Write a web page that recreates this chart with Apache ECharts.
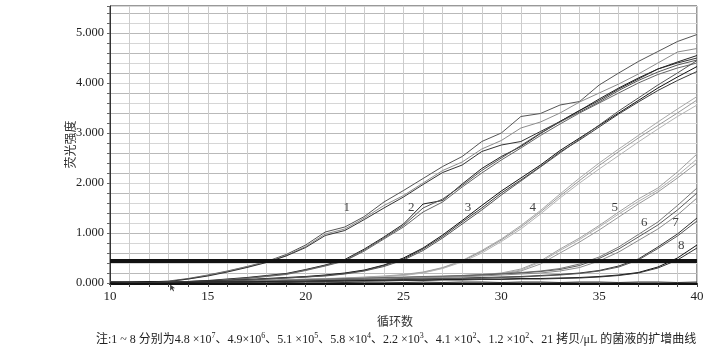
<!DOCTYPE html>
<html>
<head>
<meta charset="utf-8">
<script src="https://cdn.jsdelivr.net/npm/echarts@6/dist/echarts.min.js"></script>
<style>
html,body{margin:0;padding:0;background:#fff;}
#chart{width:715px;height:352px;}
</style>
</head>
<body>
<div id="chart"></div>
<script>
const cycles = [10,11,12,13,14,15,16,17,18,19,20,21,22,23,24,25,26,27,28,29,30,31,32,33,34,35,36,37,38,39,40];

const g1a = [0.03,0.02,0.02,0.04,0.09,0.16,0.24,0.33,0.43,0.57,0.76,1.02,1.12,1.33,1.62,1.85,2.09,2.33,2.53,2.83,3.00,3.33,3.39,3.56,3.63,3.96,4.20,4.43,4.63,4.83,4.97];
const g1b = [0.02,0.03,0.01,0.03,0.08,0.15,0.23,0.32,0.42,0.55,0.73,0.98,1.08,1.30,1.55,1.75,2.00,2.25,2.42,2.68,2.85,3.10,3.22,3.40,3.62,3.80,3.98,4.18,4.40,4.62,4.69];
const g1c = [0.01,0.02,0.02,0.03,0.08,0.14,0.22,0.31,0.41,0.54,0.71,0.95,1.05,1.27,1.50,1.72,1.97,2.21,2.36,2.63,2.76,2.83,3.03,3.23,3.45,3.65,3.88,4.08,4.28,4.40,4.50];

const g2a = [0.01,0.01,0.02,0.02,0.03,0.05,0.08,0.11,0.15,0.19,0.27,0.36,0.47,0.68,0.92,1.18,1.58,1.65,1.98,2.29,2.53,2.73,2.99,3.23,3.45,3.68,3.90,4.10,4.28,4.42,4.55];
const g2b = [0.02,0.01,0.01,0.02,0.03,0.04,0.07,0.10,0.14,0.18,0.26,0.35,0.45,0.66,0.90,1.15,1.50,1.68,1.95,2.25,2.50,2.75,3.00,3.22,3.42,3.62,3.85,4.05,4.22,4.36,4.46];
const g2c = [0.01,0.02,0.01,0.01,0.02,0.04,0.06,0.09,0.13,0.17,0.25,0.34,0.44,0.64,0.88,1.12,1.42,1.62,1.92,2.20,2.46,2.70,2.95,3.18,3.40,3.60,3.80,4.00,4.17,4.30,4.40];

const g3a = [0.02,0.01,0.02,0.02,0.03,0.04,0.05,0.07,0.09,0.11,0.13,0.16,0.20,0.26,0.36,0.50,0.70,0.96,1.25,1.55,1.84,2.10,2.36,2.65,2.90,3.15,3.40,3.65,3.90,4.12,4.33];
const g3b = [0.01,0.02,0.01,0.02,0.02,0.03,0.05,0.06,0.08,0.10,0.12,0.15,0.19,0.25,0.35,0.48,0.68,0.93,1.22,1.50,1.80,2.06,2.33,2.62,2.86,3.12,3.38,3.62,3.85,4.05,4.23];
const g3c = [0.02,0.02,0.01,0.01,0.02,0.03,0.04,0.06,0.08,0.10,0.12,0.14,0.18,0.24,0.33,0.46,0.65,0.90,1.18,1.46,1.76,2.04,2.32,2.60,2.88,3.16,3.44,3.70,3.96,4.20,4.45];

const g4a = [0.02,0.02,0.01,0.02,0.02,0.03,0.04,0.05,0.06,0.07,0.08,0.09,0.10,0.12,0.14,0.17,0.22,0.31,0.45,0.65,0.88,1.15,1.45,1.78,2.10,2.40,2.68,2.95,3.22,3.48,3.73];
const g4b = [0.01,0.02,0.02,0.01,0.02,0.02,0.03,0.04,0.05,0.06,0.07,0.08,0.10,0.11,0.13,0.16,0.21,0.30,0.44,0.63,0.86,1.12,1.42,1.74,2.05,2.35,2.63,2.90,3.15,3.40,3.66];
const g4c = [0.02,0.01,0.02,0.02,0.01,0.02,0.03,0.04,0.05,0.06,0.07,0.08,0.09,0.11,0.13,0.15,0.20,0.29,0.42,0.60,0.83,1.08,1.38,1.70,2.00,2.28,2.55,2.82,3.08,3.33,3.56];

const g5a = [0.01,0.02,0.02,0.01,0.02,0.02,0.03,0.03,0.04,0.05,0.06,0.07,0.08,0.09,0.10,0.11,0.12,0.13,0.15,0.17,0.20,0.28,0.44,0.68,0.90,1.15,1.42,1.68,1.90,2.22,2.58];
const g5b = [0.02,0.01,0.01,0.02,0.02,0.03,0.03,0.04,0.04,0.05,0.06,0.06,0.07,0.08,0.09,0.10,0.11,0.12,0.14,0.16,0.19,0.26,0.42,0.65,0.87,1.12,1.38,1.63,1.86,2.15,2.48];
const g5c = [0.01,0.01,0.02,0.02,0.01,0.02,0.02,0.03,0.04,0.04,0.05,0.06,0.07,0.08,0.08,0.09,0.10,0.11,0.13,0.15,0.18,0.24,0.38,0.60,0.82,1.06,1.32,1.58,1.82,2.10,2.40];

const g6a = [0.02,0.02,0.01,0.02,0.02,0.03,0.03,0.04,0.05,0.06,0.07,0.08,0.09,0.10,0.11,0.12,0.13,0.14,0.15,0.17,0.19,0.21,0.24,0.29,0.38,0.52,0.72,0.97,1.22,1.55,1.90];
const g6b = [0.01,0.02,0.02,0.01,0.02,0.02,0.03,0.03,0.04,0.05,0.06,0.07,0.08,0.09,0.10,0.11,0.12,0.13,0.14,0.16,0.18,0.20,0.23,0.27,0.35,0.49,0.68,0.92,1.16,1.46,1.80];
const g6c = [0.02,0.01,0.01,0.02,0.01,0.02,0.02,0.03,0.04,0.04,0.05,0.06,0.07,0.08,0.09,0.10,0.11,0.12,0.13,0.14,0.16,0.18,0.20,0.24,0.31,0.44,0.62,0.85,1.08,1.36,1.70];

const g7a = [0.01,0.02,0.02,0.01,0.02,0.02,0.02,0.03,0.03,0.04,0.04,0.05,0.06,0.06,0.07,0.08,0.08,0.09,0.10,0.11,0.12,0.13,0.15,0.17,0.20,0.25,0.34,0.48,0.72,0.98,1.30];
const g7b = [0.02,0.01,0.01,0.02,0.01,0.02,0.02,0.02,0.03,0.03,0.04,0.05,0.05,0.06,0.07,0.07,0.08,0.09,0.09,0.10,0.11,0.12,0.14,0.16,0.19,0.24,0.32,0.46,0.69,0.94,1.24];

const g8a = [0.01,0.01,0.02,0.01,0.01,0.02,0.02,0.02,0.03,0.03,0.03,0.04,0.04,0.05,0.05,0.06,0.06,0.07,0.07,0.08,0.08,0.09,0.09,0.10,0.11,0.13,0.16,0.21,0.32,0.50,0.76];
const g8b = [0.02,0.01,0.01,0.01,0.02,0.02,0.01,0.02,0.02,0.03,0.03,0.03,0.04,0.04,0.05,0.05,0.05,0.06,0.06,0.07,0.07,0.08,0.08,0.09,0.10,0.12,0.15,0.20,0.30,0.46,0.70];

const ntc = [0.02,0.03,0.01,0.02,0.01,0.02,0.01,0.02,0.02,0.01,0.02,0.02,0.01,0.02,0.02,0.01,0.02,0.01,0.02,0.02,0.01,0.02,0.02,0.01,0.02,0.02,0.01,0.02,0.02,0.01,0.02];

const threshold = 0.45;

const labelTexts = ['1','2','3','4','5','6','7','8'];
const labelCycles = [22.1,25.4,28.3,31.6,35.8,37.3,38.9,39.2];
const labelValues = [1.50,1.50,1.50,1.50,1.50,1.21,1.21,0.74];

const arrowCycle = [13.2];

const yTitle = '荧光强度';
const xTitle = '循环数';
const noteText = '注:1 ~ 8 分别为4.8 ×10{s|7}、4.9×10{s|6}、5.1 ×10{s|5}、5.8 ×10{s|4}、2.2 ×10{s|3}、4.1 ×10{s|2}、1.2 ×10{s|2}、21 拷贝/μL 的菌液的扩增曲线';

const curves = [
  [g4a,'#a8a8a8'],[g4b,'#9a9a9a'],[g4c,'#b4b4b4'],
  [g5a,'#a0a0a0'],[g5b,'#b0b0b0'],[g5c,'#989898'],
  [g6a,'#777777'],[g6b,'#5a5a5a'],[g6c,'#8a8a8a'],
  [ntc,'#333333'],
  [g1a,'#555555'],[g1b,'#8c8c8c'],[g1c,'#333333'],
  [g2a,'#222222'],[g2b,'#555555'],[g2c,'#666666'],
  [g3a,'#111111'],[g3b,'#3a3a3a'],[g3c,'#555555'],
  [g7a,'#333333'],[g7b,'#555555'],
  [g8a,'#111111'],[g8b,'#333333']
];

const series = curves.map(function(c){
  return {
    type:'line', showSymbol:false, silent:true, animation:false,
    lineStyle:{width:1, color:c[1]},
    data: cycles.map(function(x,i){return [x, c[0][i]];})
  };
});
series[0].markLine = {
  silent:true, symbol:['none','none'], animation:false,
  label:{show:false},
  lineStyle:{color:'#111', width:4, type:'solid'},
  data:[{yAxis: threshold}]
};
series.push({
  type:'scatter', symbolSize:0, silent:true, animation:false,
  label:{show:true, position:'inside', formatter:function(p){return p.name;},
    fontFamily:'Liberation Serif', fontSize:13, color:'#111'},
  data: labelTexts.map(function(t,i){return {name:t, value:[labelCycles[i], labelValues[i]]};})
});
series.push({
  type:'scatter', silent:true, animation:false, clip:false,
  symbol:'path://M0,0 L0,10 L3,7 L6,11 L7,10 L5,6 L9,6 Z', symbolSize:[5,7],
  itemStyle:{color:'#111'},
  data: arrowCycle.map(function(c){return [c, -0.1];})
});

const chart = echarts.init(document.getElementById('chart'));
chart.setOption({
  backgroundColor:'#fff',
  animation:false,
  title:[
    {text:xTitle, left:395, top:315, textAlign:'center', padding:0,
      textStyle:{fontFamily:'Noto Sans CJK SC', fontSize:12, fontWeight:'normal', color:'#333'}},
    {text:noteText, left:96, top:332, padding:0,
      textStyle:{fontFamily:'Liberation Serif, Noto Sans CJK SC', fontSize:12, fontWeight:'normal', color:'#222',
        rich:{s:{fontSize:8, fontFamily:'Liberation Serif', color:'#222', padding:[0,0,7,0]}}}}
  ],
  grid:{left:110, right:18, top:6, bottom:69, show:true, borderColor:'#333', borderWidth:1},
  xAxis:{
    type:'value', min:10, max:40, interval:1,
    axisLine:{show:true, onZero:false, lineStyle:{color:'#111', width:2}},
    offset:1,
    axisTick:{show:true, length:3, lineStyle:{color:'#444'}},
    axisLabel:{margin:6, fontFamily:'Liberation Serif', fontSize:13, color:'#222',
      formatter:function(v){return (Math.round(v)%5===0)? String(Math.round(v)) : '';}},
    splitLine:{show:true, lineStyle:{color:'#cccccc', width:1}}
  },
  yAxis:{
    type:'value', min:0, max:5.54, interval:0.2,
    name:yTitle, nameLocation:'middle', nameRotate:90, nameGap:34, nameMoveOverlap:false,
    nameTextStyle:{fontFamily:'Noto Sans CJK SC', fontSize:12, color:'#333'},
    axisLine:{show:true, lineStyle:{color:'#333', width:1}},
    axisTick:{show:true, length:3, lineStyle:{color:'#666'}},
    axisLabel:{margin:6, fontFamily:'Liberation Serif', fontSize:12.5, color:'#222',
      formatter:function(v){return Math.abs(v-Math.round(v))<1e-6 ? Math.round(v).toFixed(3) : '';}},
    splitLine:{show:true, lineStyle:{color:['#d6d6d6','#b9b9b9'], width:1}}
  },
  series: series
});
</script>
</body>
</html>
